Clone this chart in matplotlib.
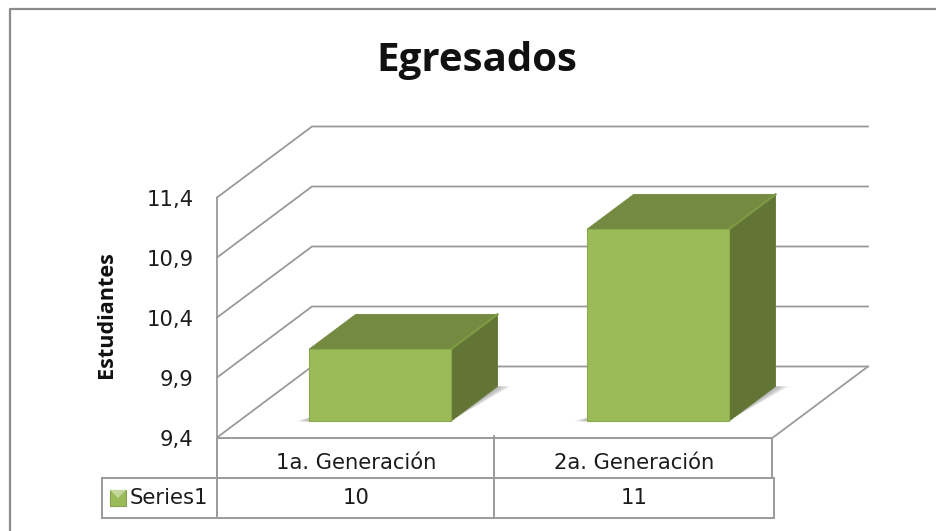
import matplotlib
matplotlib.use("Agg")
import matplotlib.pyplot as plt
from matplotlib.patches import Rectangle, Polygon
from matplotlib.lines import Line2D
from matplotlib.transforms import Affine2D

title = "Egresados"
y_title = "Estudiantes"
categories = ["1a. Generación", "2a. Generación"]
series_name = "Series1"
values = [10, 11]
y_ticks = [9.4, 9.9, 10.4, 10.9, 11.4]
y_labels = ["9,4", "9,9", "10,4", "10,9", "11,4"]

W, H = 936, 531
GRID = "#9a9a9a"
TXT = "#1c1c1c"
FS = 15.2
fig = plt.figure(figsize=(W / 100, H / 100), dpi=100, facecolor="white")
px = Affine2D().scale(1 / W, -1 / H).translate(0, 1) + fig.transFigure

L, R, T, B = 217, 773, 197.5, 437.5
ax = fig.add_axes([L / W, 1 - B / H, (R - L) / W, (B - T) / H])
ax.set_xlim(0, 2)
ax.set_ylim(9.4, 11.4)
ax.patch.set_visible(False)
for s in ("top", "right", "bottom"):
    ax.spines[s].set_visible(False)
ax.spines["left"].set_color(GRID)
ax.spines["left"].set_linewidth(1.3)

DX = 95 / ((R - L) / 2)     # full floor depth, in category units
DY = 71 / ((B - T) / 2)     # full floor depth, in value units


def proj(x, v, d):
    return x + DX * d, v + DY * d


# walls and floor
for v in y_ticks:
    pts = [proj(0, v, 0), proj(0, v, 1), proj(2, v, 1)]
    ax.plot(*zip(*pts), color=GRID, lw=1.3, clip_on=False, zorder=1, solid_joinstyle="miter")
pts = [proj(2, 9.4, 0), proj(2, 9.4, 1)]
ax.plot(*zip(*pts), color=GRID, lw=1.3, clip_on=False, zorder=1)

# bars
BW = 0.51
D0, D1 = 0.228, 0.72
SHIFT = 0.008
FRONT, TOP, SIDE, EDGE = "#9bbb59", "#748a40", "#637535", "#7d9a45"
base = y_ticks[0]
for i, val in enumerate(values):
    c = i + 0.5 + SHIFT
    l, r = c - BW / 2, c + BW / 2
    # floor shadows, layered so that they fade away from the bar
    for k in (1.0, 0.7, 0.4):
        ax.add_patch(Polygon([proj(l - 0.045 * k, base, D0), proj(l, base, D0), proj(l, base, D0 + 0.1)],
                             closed=True, fc="#808080", alpha=0.22, ec="none", clip_on=False, zorder=2))
        ax.add_patch(Polygon([proj(r, base, D0 + 0.04), proj(r, base, D1), proj(r + 0.045 * k, base, D1)],
                             closed=True, fc="#808080", alpha=0.22, ec="none", clip_on=False, zorder=2))
    # top and side faces
    ax.fill(*zip(proj(l, val, D0), proj(r, val, D0), proj(r, val, D1), proj(l, val, D1)),
            fc=TOP, ec=TOP, lw=0.6, clip_on=False, zorder=3)
    ax.fill(*zip(proj(r, base, D0), proj(r, val, D0), proj(r, val, D1), proj(r, base, D1)),
            fc=SIDE, ec=SIDE, lw=0.6, clip_on=False, zorder=3)
    ax.plot(*zip(proj(r, val, D0), proj(r, val, D1)), color=EDGE, lw=1.6, clip_on=False, zorder=4)
    # front face
    x0, y0 = proj(c, base, D0)
    ax.bar(x0, val - base, bottom=y0, width=BW, color=FRONT, edgecolor="#8aaa4d",
           linewidth=0.8, clip_on=False, zorder=5)

# axis text
ax.set_yticks(y_ticks, y_labels, fontsize=FS, color=TXT, family="DejaVu Sans")
ax.tick_params(axis="y", length=0, pad=17)
ax.set_xticks([0.5, 1.5], categories, fontsize=FS, color=TXT, family="DejaVu Sans")
ax.tick_params(axis="x", length=0, pad=11)

# data table
table_lines = [
    ([L, L], [B, 518]), ([494, 494], [436, 518]), ([772, 772], [B, 478]),
    ([L, 772], [B + 0.5, B + 0.5]), ([102, 774], [478, 478]),
    ([102, 774], [518, 518]), ([102, 102], [478, 518]), ([774, 774], [478, 518]),
]
for xs, ys in table_lines:
    fig.add_artist(Line2D(xs, ys, transform=px, color=GRID, lw=1.4))
for i, val in enumerate(values):
    fig.text((L + (i + 0.5) * (R - L) / 2) / W, 1 - 498 / H, str(val), fontsize=FS,
             color=TXT, ha="center", va="center", family="DejaVu Sans")
fig.add_artist(Rectangle((110, 490), 16, 16, transform=px, fc=FRONT, ec="#8aa24f", lw=0.8))
fig.add_artist(Polygon([(110, 490), (126, 490), (118, 498)], closed=True, transform=px,
                       fc="#c3d69b", ec="none"))
fig.text(130 / W, 1 - 498 / H, series_name, fontsize=FS, color=TXT, ha="left", va="center",
         family="DejaVu Sans")

# chart frame (left and top only)
fig.add_artist(Line2D([10, 10, W], [H, 8.5, 8.5], transform=px, color="#8c8c8c", lw=1.6))

fig.text(477 / W, 1 - 60 / H, title, fontsize=29, fontweight="bold", color="#111111",
         ha="center", va="center", family="Open Sans")
fig.text(106 / W, 1 - 315 / H, y_title, fontsize=15.6, fontweight="bold", color="#111111",
         rotation=90, ha="center", va="center", family="Open Sans")

fig.savefig("out.png", dpi=100, facecolor="white")
